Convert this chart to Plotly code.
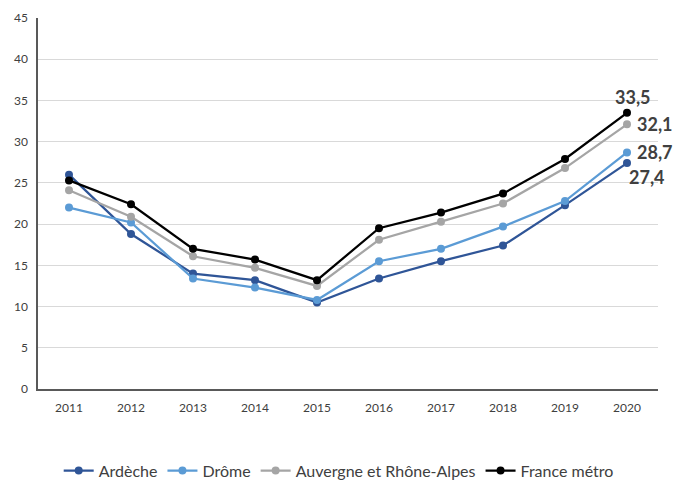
import plotly.graph_objects as go

years = ["2011", "2012", "2013", "2014", "2015", "2016", "2017", "2018", "2019", "2020"]
ardeche = [26.0, 18.8, 14.0, 13.2, 10.5, 13.4, 15.5, 17.4, 22.3, 27.4]
drome = [22.0, 20.2, 13.4, 12.3, 10.8, 15.5, 17.0, 19.7, 22.8, 28.7]
ara = [24.1, 20.9, 16.1, 14.7, 12.5, 18.1, 20.3, 22.5, 26.8, 32.1]
france = [25.3, 22.4, 17.0, 15.7, 13.2, 19.5, 21.4, 23.7, 27.9, 33.5]
names = ["Ardèche", "Drôme", "Auvergne et Rhône-Alpes", "France métro"]
colors = ["#2F5597", "#5B9BD5", "#A5A5A5", "#000000"]
y_ticks = [0, 5, 10, 15, 20, 25, 30, 35, 40, 45]

series = [ardeche, drome, ara, france]
fig = go.Figure()
for name, vals, col in zip(names, series, colors):
    fig.add_trace(go.Scatter(
        x=years, y=vals, name=name, mode="lines+markers",
        line=dict(color=col, width=2.25),
        marker=dict(color=col, size=8),
    ))

# End labels (category axis: position by index of the last year)
last_idx = len(years) - 1
label_offsets = [(0, -14, "left"), (8, 0, "left"), (8, 0, "left"), (6, 16, "center")]
for vals, (xs, ys, xa) in zip(series, label_offsets):
    fig.add_annotation(
        x=last_idx, y=vals[-1], text=f"{vals[-1]:.1f}".replace(".", ","),
        showarrow=False, xanchor=xa, yanchor="middle", xshift=xs, yshift=ys,
        font=dict(family="Lato, Open Sans, sans-serif", size=18, color="#404040", weight="bold"),
    )

fig.update_layout(
    width=677, height=481,
    margin=dict(l=38, r=19, t=18, b=92, autoexpand=False),
    paper_bgcolor="white", plot_bgcolor="white",
    font=dict(family="Lato, Open Sans, sans-serif", size=12, color="#404040"),
    showlegend=True,
    legend=dict(orientation="h", x=0.485, xanchor="center", y=-0.22, yanchor="middle",
                font=dict(size=16, color="#404040"), itemwidth=30),
    xaxis=dict(type="category", range=[-0.5, len(years) - 0.5], showgrid=False,
               showline=True, linecolor="#595959",
               linewidth=1.5, ticks="", ticklabelstandoff=7, automargin=False,
               tickfont=dict(size=12, color="#404040")),
    yaxis=dict(range=[0, 45], tickvals=y_ticks, showgrid=True, gridcolor="#D9D9D9",
               gridwidth=1, showline=True, linecolor="#595959", linewidth=1.5, ticks="",
               ticklabelstandoff=6, zeroline=False, automargin=False,
               tickfont=dict(size=12, color="#404040")),
)

fig.write_html("out.html")
